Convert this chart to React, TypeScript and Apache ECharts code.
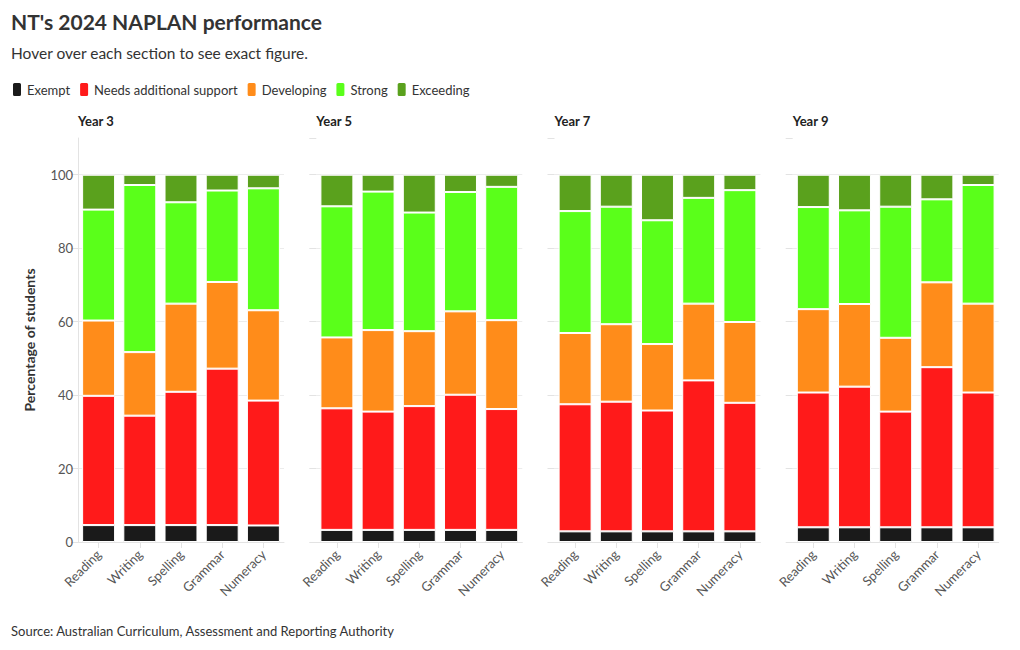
import React, { useEffect, useRef } from "react";
import * as echarts from "echarts";

const years = ["Year 3", "Year 5", "Year 7", "Year 9"];
const subjects = ["Reading", "Writing", "Spelling", "Grammar", "Numeracy"];
const levels = ["Exempt", "Needs additional support", "Developing", "Strong", "Exceeding"];
const levelColors = ["#1a1a1a", "#ff1a1a", "#ff8c1a", "#5aff1a", "#5aa11d"];

// values per year (Year 3, 5, 7, 9), each in subject order
const exempt = [
  [4.6, 4.6, 4.6, 4.6, 4.5],
  [3.3, 3.3, 3.3, 3.3, 3.3],
  [2.9, 2.9, 2.9, 2.9, 2.9],
  [4.0, 4.0, 4.0, 4.0, 4.0],
];
const needsSupport = [
  [35.2, 29.8, 36.3, 42.6, 34.0],
  [33.1, 32.2, 33.7, 36.8, 32.9],
  [34.6, 35.3, 32.9, 41.1, 35.0],
  [36.7, 38.3, 31.5, 43.6, 36.7],
];
const developing = [
  [20.5, 17.3, 24.0, 23.6, 24.6],
  [19.3, 22.2, 20.4, 22.7, 24.2],
  [19.4, 21.1, 18.1, 20.9, 22.0],
  [22.7, 22.5, 20.1, 23.1, 24.2],
];
const strong = [
  [30.2, 45.5, 27.6, 24.9, 33.2],
  [35.7, 37.7, 32.3, 32.5, 36.3],
  [33.2, 32.0, 33.7, 28.8, 35.9],
  [27.8, 25.5, 35.7, 22.6, 32.3],
];
const exceeding = [
  [9.5, 2.8, 7.5, 4.3, 3.7],
  [8.6, 4.6, 10.3, 4.7, 3.3],
  [9.9, 8.7, 12.4, 6.3, 4.2],
  [8.8, 9.7, 8.7, 6.7, 2.8],
];
const yTicks = [0, 20, 40, 60, 80, 100];

const FONT = "Lato, 'Noto Sans', sans-serif";

export default function App() {
  const ref = useRef<HTMLDivElement>(null);
  useEffect(() => {
    if (!ref.current) return;
    document.body.style.margin = "0";
    const chart = echarts.init(ref.current, null, { renderer: "svg" });
    const levelData = [exempt, needsSupport, developing, strong, exceeding];
    const gridLefts = [78, 316.3, 554.5, 792.7];
    const gridWidth = 206;
    const grids = gridLefts.map((l) => ({ left: l, width: gridWidth, top: 138, height: 404 }));
    const xAxes = years.map((_, i) => ({
      type: "category",
      gridIndex: i,
      data: subjects,
      axisLine: { show: true, lineStyle: { color: "#e3e3e3" } },
      axisTick: { show: true, alignWithLabel: true, length: 6, lineStyle: { color: "#e3e3e3" } },
      axisLabel: { rotate: 45, fontSize: 13, color: "#555", fontFamily: FONT, margin: 10 },
    }));
    const splitColors = yTicks.map(() => "#ececec").concat(["rgba(0,0,0,0)"]);
    const yAxes = years.map((_, i) => ({
      type: "value",
      gridIndex: i,
      min: 0,
      max: 110,
      interval: 20,
      axisLine: { show: i === 0, lineStyle: { color: "#e3e3e3" } },
      axisTick: { show: true, length: 7, lineStyle: { color: "#e3e3e3" } },
      axisLabel: {
        show: i === 0,
        showMaxLabel: false,
        fontSize: 13,
        color: "#555",
        fontFamily: FONT,
        margin: 5,
        formatter: (v: number) => (yTicks.includes(v) ? String(v) : ""),
      },
      splitLine: { show: true, lineStyle: { color: splitColors, width: 1 } },
    }));
    const series: any[] = [];
    years.forEach((_, yi) => {
      levels.forEach((lv, li) => {
        series.push({
          type: "bar",
          name: lv,
          xAxisIndex: yi,
          yAxisIndex: yi,
          stack: "s" + yi,
          barCategoryGap: "20%",
          data: levelData[li][yi],
          itemStyle: { color: levelColors[li], borderColor: "#fff", borderWidth: 1 },
        });
      });
    });
    const graphic: any[] = [
      {
        type: "text",
        left: 11,
        top: 11,
        style: { text: "NT's 2024 NAPLAN performance", font: `bold 21px ${FONT}`, fill: "#333" },
      },
      {
        type: "text",
        left: 11,
        top: 45,
        style: { text: "Hover over each section to see exact figure.", font: `15.5px ${FONT}`, fill: "#333" },
      },
      {
        type: "text",
        left: 11,
        top: 624,
        style: { text: "Source: Australian Curriculum, Assessment and Reporting Authority", font: `13px ${FONT}`, fill: "#333" },
      },
      {
        type: "text",
        x: 29,
        y: 340,
        rotation: Math.PI / 2,
        style: {
          text: "Percentage of students",
          font: `bold 14px ${FONT}`,
          fill: "#333",
          align: "center",
          verticalAlign: "middle",
        },
      },
    ];
    years.forEach((y, i) => {
      graphic.push({
        type: "text",
        x: gridLefts[i],
        y: 121,
        style: { text: y, font: `bold 13px ${FONT}`, fill: "#222", verticalAlign: "middle" },
      });
    });
    chart.setOption({
      animation: false,
      backgroundColor: "#fff",
      legend: {
        left: 11,
        top: 81,
        padding: 0,
        icon: "roundRect",
        itemWidth: 10,
        itemHeight: 15,
        itemGap: 8,
        textStyle: { fontSize: 13, color: "#333", fontFamily: FONT },
        data: levels,
      },
      tooltip: { trigger: "item" },
      grid: grids,
      xAxis: xAxes,
      yAxis: yAxes,
      series,
      graphic,
    });
    return () => chart.dispose();
  }, []);
  return (
    <div style={{ position: "fixed", left: 0, top: 0, width: 1020, height: 650, background: "#fff" }}>
      <div ref={ref} style={{ width: 1020, height: 650 }} />
    </div>
  );
}
